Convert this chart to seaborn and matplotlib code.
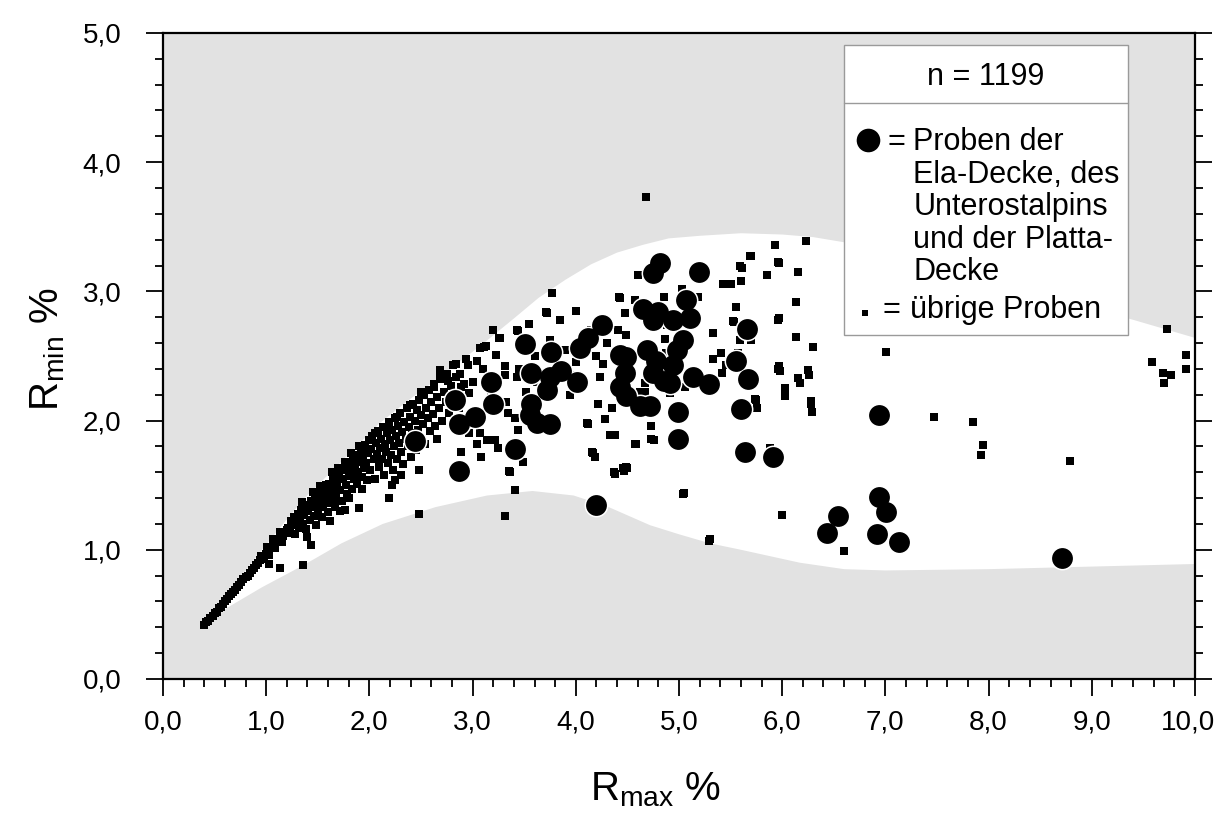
import numpy as np
import pandas as pd
import matplotlib
matplotlib.use("Agg")
import matplotlib.pyplot as plt
import matplotlib.patches as mpatches
from matplotlib.lines import Line2D
from matplotlib.transforms import ScaledTranslation
import seaborn as sns

# --- data (R_max %, R_min %) ---

# large dots: Ela-Decke, Unterostalpin, Platta-Decke
big_x = [4.82, 4.75, 5.19, 5.07, 4.65, 4.80, 4.75, 4.94, 5.11, 4.25,
         4.12, 4.04, 5.66, 5.04, 4.98, 3.51, 3.76, 4.43, 4.69, 4.49,
         5.55, 4.78, 4.94, 3.57, 3.86, 3.75, 4.01, 4.48, 4.43, 4.75,
         4.85, 4.91, 5.14, 5.29, 5.67, 3.18, 2.83, 3.20, 3.72, 3.57,
         3.02, 2.87, 3.56, 3.62, 3.75, 4.49, 4.62, 4.72, 4.99, 5.60,
         4.99, 2.44, 3.41, 2.87, 5.64, 5.91, 4.20, 6.94, 6.94, 7.01,
         6.54, 6.43, 6.92, 7.13, 8.71]
big_y = [3.22, 3.14, 3.15, 2.93, 2.86, 2.84, 2.78, 2.78, 2.79, 2.74,
         2.64, 2.56, 2.71, 2.62, 2.55, 2.59, 2.53, 2.51, 2.55, 2.49,
         2.46, 2.46, 2.43, 2.37, 2.38, 2.34, 2.30, 2.37, 2.26, 2.37,
         2.31, 2.29, 2.34, 2.28, 2.32, 2.30, 2.16, 2.13, 2.24, 2.13,
         2.03, 1.97, 2.04, 1.98, 1.97, 2.19, 2.11, 2.11, 2.07, 2.09,
         1.86, 1.84, 1.78, 1.61, 1.76, 1.72, 1.35, 2.04, 1.41, 1.29,
         1.26, 1.13, 1.12, 1.06, 0.94]

# small squares: uebrige Proben
diag_x = [0.40, 0.42, 0.44, 0.46, 0.48, 0.50, 0.52, 0.54, 0.56, 0.58,
          0.60, 0.62, 0.64, 0.66, 0.68, 0.70, 0.72, 0.74, 0.76, 0.78,
          0.80, 0.82, 0.84, 0.86, 0.88, 0.90, 0.92, 0.94, 0.96, 0.98,
          1.00, 1.02, 1.04, 1.06, 1.08, 1.10, 1.12, 1.14, 1.16, 1.18,
          1.20, 0.95, 1.01, 1.07, 1.13, 1.03, 1.09, 1.15, 1.13, 1.03]
diag_y = [0.42, 0.44, 0.45, 0.47, 0.49, 0.51, 0.52, 0.55, 0.56, 0.58,
          0.60, 0.62, 0.64, 0.66, 0.67, 0.69, 0.71, 0.73, 0.75, 0.77,
          0.79, 0.80, 0.82, 0.84, 0.86, 0.88, 0.90, 0.92, 0.93, 0.95,
          0.97, 0.99, 1.01, 1.02, 1.04, 1.06, 1.08, 1.10, 1.11, 1.13,
          1.15, 0.95, 1.02, 1.08, 1.14, 0.96, 1.01, 1.06, 0.86, 0.89]

band1_x = [1.21, 1.23, 1.24, 1.26, 1.27, 1.28, 1.29, 1.31, 1.32, 1.33,
           1.34, 1.36, 1.37, 1.38, 1.39, 1.41, 1.42, 1.43, 1.44, 1.46,
           1.47, 1.48, 1.49, 1.50, 1.52, 1.53, 1.54, 1.55, 1.56, 1.57,
           1.59, 1.60, 1.61, 1.62, 1.63, 1.65, 1.66, 1.67, 1.68, 1.69,
           1.71, 1.72, 1.73, 1.74, 1.75, 1.77, 1.78, 1.79, 1.80, 1.81,
           1.83, 1.84, 1.85, 1.86, 1.87, 1.88, 1.89, 1.91, 1.92, 1.93,
           1.94, 1.95, 1.96, 1.97, 1.98, 1.99, 2.00, 1.64, 1.58, 1.70,
           1.76, 1.82, 1.45, 1.52, 1.35, 1.90, 1.66, 1.80, 1.72, 1.93,
           1.40, 1.43, 1.36, 1.90, 1.62, 1.76]
band1_y = [1.17, 1.13, 1.22, 1.19, 1.25, 1.12, 1.21, 1.28, 1.17, 1.24,
           1.31, 1.20, 1.27, 1.35, 1.16, 1.30, 1.23, 1.38, 1.33, 1.26,
           1.41, 1.19, 1.35, 1.30, 1.44, 1.38, 1.25, 1.33, 1.47, 1.41,
           1.36, 1.29, 1.51, 1.44, 1.39, 1.55, 1.48, 1.33, 1.42, 1.52,
           1.58, 1.46, 1.38, 1.55, 1.62, 1.50, 1.43, 1.66, 1.57, 1.61,
           1.47, 1.69, 1.55, 1.64, 1.73, 1.51, 1.60, 1.68, 1.77, 1.56,
           1.72, 1.63, 1.81, 1.67, 1.54, 1.75, 1.85, 1.60, 1.50, 1.63,
           1.68, 1.75, 1.45, 1.49, 1.37, 1.80, 1.36, 1.40, 1.30, 1.47,
           1.10, 1.04, 0.88, 1.32, 1.22, 1.31]

band2_x = [2.01, 2.02, 2.03, 2.04, 2.05, 2.06, 2.07, 2.08, 2.09, 2.10,
           2.11, 2.12, 2.13, 2.14, 2.15, 2.16, 2.17, 2.18, 2.19, 2.20,
           2.21, 2.22, 2.23, 2.24, 2.25, 2.26, 2.27, 2.28, 2.29, 2.30,
           2.31, 2.32, 2.33, 2.34, 2.35, 2.36, 2.37, 2.38, 2.39, 2.40,
           2.41, 2.42, 2.43, 2.44, 2.45, 2.46, 2.47, 2.48, 2.49, 2.50,
           2.52, 2.53, 2.54, 2.55, 2.57, 2.58, 2.59, 2.60, 2.62, 2.63,
           2.64, 2.66, 2.67, 2.69, 2.70, 2.72, 2.74, 2.75, 2.77, 2.79,
           2.82, 2.84, 2.86, 2.89, 2.15, 2.27, 2.05, 2.39, 2.50, 2.22,
           2.19, 2.25, 2.48, 2.48, 2.31, 2.66]
band2_y = [1.62, 1.78, 1.88, 1.70, 1.55, 1.83, 1.74, 1.92, 1.64, 1.79,
           1.86, 1.70, 1.95, 1.58, 1.82, 1.76, 1.90, 1.67, 1.99, 1.85,
           1.73, 1.93, 1.62, 1.80, 2.02, 1.88, 1.70, 1.96, 1.83, 2.06,
           1.76, 1.91, 1.66, 1.99, 1.86, 2.10, 1.80, 1.95, 2.03, 1.72,
           1.90, 2.13, 1.84, 2.00, 1.77, 2.08, 1.93, 2.16, 1.87, 2.04,
           1.97, 2.20, 1.82, 2.10, 2.02, 2.24, 1.92, 2.14, 2.05, 2.28,
           1.96, 2.18, 2.10, 2.32, 2.00, 2.22, 2.14, 2.36, 2.06, 2.27,
           2.18, 2.34, 2.10, 2.26, 1.95, 2.03, 1.90, 2.12, 2.22, 1.50,
           1.40, 1.54, 1.62, 1.28, 1.58, 1.86]

mid_x = [2.81, 2.68, 2.68, 2.88, 2.94, 2.96, 3.04, 3.10, 3.07, 3.13,
         3.23, 3.27, 3.31, 3.31, 3.43, 3.43, 2.63, 2.76, 2.97, 3.32,
         3.52, 3.34, 3.41, 3.07, 3.14, 3.22, 2.97, 3.04, 3.44, 3.49,
         3.25, 3.35, 3.41, 3.31, 3.94, 4.11, 4.22, 4.23, 4.17, 4.36,
         4.33, 4.37, 4.46, 4.49, 4.57, 4.73, 4.62, 4.62, 4.67, 4.67,
         4.48, 4.88, 3.71, 3.85, 3.77, 3.72, 3.44, 3.26, 3.11, 2.84,
         2.89, 3.08, 3.36, 4.12, 4.28, 4.35, 4.38, 4.16, 4.19, 4.38,
         4.47, 4.50, 4.58, 4.76, 4.73, 4.35, 2.87, 2.92, 3.00, 3.18,
         3.45, 3.60, 3.90, 4.00, 4.05, 4.15, 4.30, 3.62, 3.75, 3.55,
         3.20, 4.20, 3.88, 4.00, 3.95, 4.26]
mid_y = [2.43, 2.39, 2.33, 2.36, 2.48, 2.43, 2.46, 2.40, 2.56, 2.58,
         2.51, 2.64, 2.42, 2.35, 2.70, 2.34, 2.26, 2.31, 2.21, 2.14,
         2.22, 2.06, 2.02, 1.90, 1.85, 1.85, 1.90, 1.82, 1.93, 1.68,
         1.79, 1.61, 1.46, 1.26, 2.20, 1.98, 2.13, 2.34, 1.75, 1.89,
         1.89, 1.60, 1.63, 1.64, 1.82, 1.86, 2.22, 2.18, 2.22, 2.29,
         2.83, 2.74, 2.84, 2.78, 2.99, 2.83, 2.69, 2.64, 2.57, 2.44,
         1.76, 1.72, 1.60, 1.97, 2.01, 1.89, 1.89, 1.76, 1.72, 1.59,
         1.61, 1.63, 1.82, 1.85, 1.96, 2.10, 2.10, 2.28, 2.30, 2.22,
         2.40, 2.50, 2.55, 2.45, 2.62, 2.70, 2.60, 2.30, 2.62, 2.75,
         2.70, 2.50, 2.38, 2.85, 2.35, 2.44]

upper_x = [4.60, 5.70, 5.59, 5.61, 5.85, 5.96, 5.43, 5.50, 5.60, 5.03,
           4.42, 4.57, 4.85, 5.18, 5.55, 5.96, 4.41, 4.49, 5.53, 5.33,
           5.70, 4.86, 5.33, 5.41, 5.46, 5.57, 5.75, 5.96, 5.05, 5.30,
           5.06, 5.15, 4.91, 4.87, 5.59, 4.43, 4.68, 5.93, 6.23, 5.69,
           6.15, 6.13, 5.52, 5.97, 6.13, 6.30, 5.97, 6.15, 6.25, 6.03,
           6.28, 5.74, 5.42, 5.97, 5.85, 5.98, 6.26, 6.17, 6.03, 6.29]
upper_y = [3.13, 3.27, 3.20, 3.18, 3.13, 3.23, 3.06, 3.06, 3.08, 3.02,
           2.96, 2.93, 2.96, 2.96, 2.88, 2.78, 2.70, 2.66, 2.76, 2.68,
           2.62, 2.63, 2.48, 2.52, 2.43, 2.52, 2.16, 2.40, 1.44, 1.08,
           2.26, 2.30, 2.21, 2.52, 2.62, 2.95, 3.73, 3.36, 3.39, 3.27,
           3.15, 2.92, 2.77, 2.79, 2.65, 2.57, 2.42, 2.33, 2.39, 2.25,
           2.15, 2.17, 2.37, 3.22, 3.13, 2.38, 2.35, 2.29, 2.19, 2.07]

right_x = [6.28, 7.47, 7.85, 7.95, 7.93, 8.79, 5.04, 6.00, 5.88, 5.29,
           6.60, 7.01, 9.73, 9.58, 9.69, 9.77, 9.70, 9.91, 9.91, 5.76]
right_y = [2.13, 2.03, 1.99, 1.81, 1.73, 1.69, 1.43, 1.27, 1.79, 1.07,
           0.99, 2.53, 2.71, 2.45, 2.37, 2.35, 2.29, 2.51, 2.40, 2.10]

# outline of the white field
upper_edge_x = [0.40, 1.00, 1.36, 1.60, 1.85, 2.10, 2.40, 2.64, 2.90, 3.14,
                3.40, 3.64, 3.90, 4.15, 4.40, 4.65, 4.90, 5.20, 5.60, 6.00,
                6.30, 6.60, 7.20, 7.80, 8.40, 9.00, 9.40, 10.0]
upper_edge_y = [0.43, 1.04, 1.39, 1.58, 1.78, 1.98, 2.17, 2.31, 2.47, 2.62,
                2.79, 2.95, 3.09, 3.21, 3.30, 3.36, 3.41, 3.43, 3.45, 3.44,
                3.42, 3.38, 3.28, 3.14, 2.99, 2.87, 2.78, 2.64]
lower_edge_x = [0.40, 0.62, 0.96, 1.36, 1.73, 2.13, 2.64, 3.14, 3.58, 3.98,
                4.32, 4.72, 5.00, 5.30, 5.60, 6.17, 6.60, 7.00, 8.00, 9.00, 10.0]
lower_edge_y = [0.42, 0.55, 0.71, 0.88, 1.05, 1.20, 1.33, 1.42, 1.455, 1.42,
                1.33, 1.19, 1.12, 1.05, 1.00, 0.90, 0.85, 0.84, 0.85, 0.87, 0.89]

ticks = [0, 1, 2, 3, 4, 5, 6, 7, 8, 9, 10]
xtick_labels = ['0,0', '1,0', '2,0', '3,0', '4,0', '5,0', '6,0', '7,0', '8,0', '9,0', '10,0']
ytick_labels = ['0,0', '1,0', '2,0', '3,0', '4,0', '5,0']

legend_lines = ['Proben der', 'Ela-Decke, des', 'Unterostalpins', 'und der Platta-', 'Decke']

others = pd.DataFrame({
    'rmax': diag_x + band1_x + band2_x + mid_x + upper_x + right_x,
    'rmin': diag_y + band1_y + band2_y + mid_y + upper_y + right_y,
})
ela = pd.DataFrame({'rmax': big_x, 'rmin': big_y})

sns.set_style("ticks")
plt.rcParams['font.family'] = ['Liberation Sans', 'DejaVu Sans']
plt.rcParams['mathtext.default'] = 'regular'
plt.rcParams['text.color'] = 'black'
plt.rcParams['axes.labelcolor'] = 'black'

fig = plt.figure(figsize=(12.19, 8.24), dpi=100)
ax = fig.add_axes([0.1337, 0.176, 0.8466, 0.784])
ax.set_facecolor('#e2e2e2')

# white field between the two envelope curves
ax.fill(upper_edge_x + lower_edge_x[::-1], upper_edge_y + lower_edge_y[::-1],
        color='white', lw=0, zorder=1)

sns.scatterplot(data=others, x='rmax', y='rmin', marker='s', s=28,
                color='black', linewidth=0, ax=ax, zorder=3)
# white halo first, then solid dots on top so touching dots merge
sns.scatterplot(data=ela, x='rmax', y='rmin', marker='o', s=225,
                color='black', edgecolor='white', linewidth=2.2, ax=ax, zorder=4)
sns.scatterplot(data=ela, x='rmax', y='rmin', marker='o', s=225,
                color='black', linewidth=0, ax=ax, zorder=4)

ax.set_xlim(0, 10)
ax.set_ylim(0, 5)
ax.set_xticks(ticks)
ax.set_xticklabels(xtick_labels)
ax.set_yticks(ticks[:6])
ax.set_yticklabels(ytick_labels)
ax.set_xticks(np.arange(0, 10.01, 0.2), minor=True)
ax.set_yticks(np.arange(0, 5.01, 0.2), minor=True)
ax.tick_params(which='both', direction='out', width=1.3, colors='black',
               left=True, right=True, top=False, bottom=True, labelsize=20)
ax.tick_params(axis='x', which='major', length=12, pad=10)
ax.tick_params(axis='y', which='major', length=12, pad=18)
ax.tick_params(which='minor', length=6)
for sp in ax.spines.values():
    sp.set_visible(True)
    sp.set_linewidth(1.6)
    sp.set_color('black')

# the last x label sits right at the figure edge, nudge it in a little
last = ax.get_xticklabels()[-1]
last.set_transform(last.get_transform() + ScaledTranslation(-5 / 72, 0, fig.dpi_scale_trans))

ax.set_xlabel(r'$R_{max}$ %', fontsize=29)
ax.set_ylabel(r'$R_{min}$ %', fontsize=29)
ax.xaxis.set_label_coords(0.477, -0.172)
ax.xaxis.label.set_va('center')
ax.yaxis.set_label_coords(-0.112, 0.51)
ax.yaxis.label.set_va('center')

# legend box
ax.add_patch(mpatches.Rectangle((0.660, 0.532), 0.275, 0.450, transform=ax.transAxes,
                                facecolor='white', edgecolor='#9a9a9a', lw=1.0, zorder=6))
ax.add_line(Line2D([0.660, 0.935], [0.892, 0.892], transform=ax.transAxes,
                   color='#9a9a9a', lw=1.0, zorder=7))
ax.text(0.7975, 0.9195, 'n = 1199', transform=ax.transAxes, ha='center', va='baseline',
        fontsize=22, zorder=8)
ax.add_line(Line2D([0.683], [0.834], transform=ax.transAxes, marker='o', ms=17,
                   color='black', mew=0, zorder=8))
ax.text(0.711, 0.8185, '=', transform=ax.transAxes, ha='center', va='baseline',
        fontsize=22, zorder=8)
for i, line in enumerate(legend_lines):
    ax.text(0.727, 0.8185 - i * 0.0503, line, transform=ax.transAxes, ha='left',
            va='baseline', fontsize=22, zorder=8)
ax.add_line(Line2D([0.680], [0.567], transform=ax.transAxes, marker='s', ms=4.5,
                   color='black', mew=0, zorder=8))
ax.text(0.706, 0.5585, '=', transform=ax.transAxes, ha='center', va='baseline',
        fontsize=22, zorder=8)
ax.text(0.724, 0.5585, 'übrige Proben', transform=ax.transAxes, ha='left', va='baseline',
        fontsize=22, zorder=8)

fig.savefig('out.png', dpi=100, facecolor='white')
